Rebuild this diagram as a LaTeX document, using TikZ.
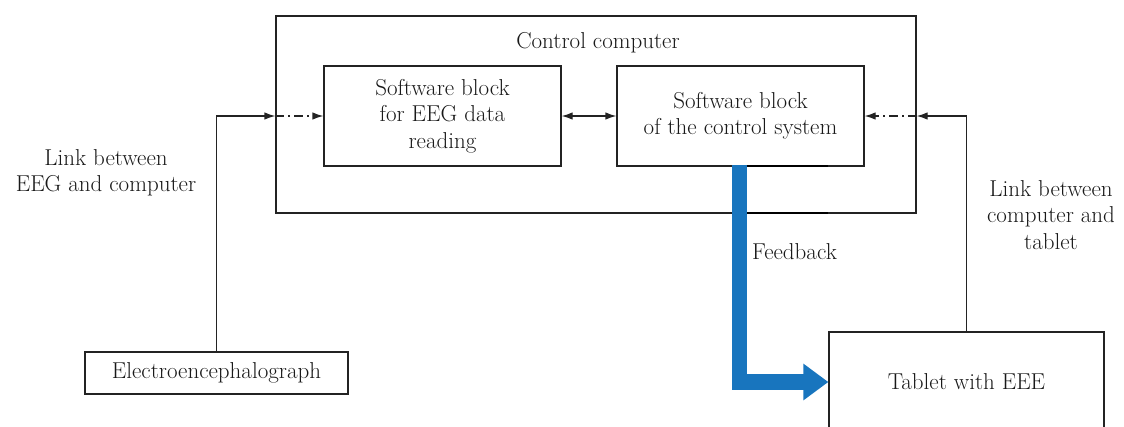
\documentclass[tikz,border=0pt]{standalone}
\usetikzlibrary{arrows.meta}
\definecolor{fbblue}{RGB}{24,117,190}
\definecolor{txt}{RGB}{25,25,25}
\definecolor{ln}{RGB}{35,35,35}
\tikzset{
  blk/.style={draw=ln, line width=1.25pt, inner sep=0pt, align=center, text=txt},
  lbl/.style={inner sep=0pt, align=center, text=txt},
  conn/.style={draw=ln, line width=1.25pt, -{Latex[length=11pt,width=7.5pt]}},
  dd/.style={draw=ln, line width=1.25pt, dash pattern=on 9pt off 4pt on 2pt off 4pt, -{Latex[length=11pt,width=7.5pt]}},
  both/.style={draw=ln, line width=1.25pt, {Latex[length=11pt,width=7.5pt]}-{Latex[length=11pt,width=7.5pt]}},
  fb/.style={draw=fbblue, line width=15.5pt, line join=miter, -{Triangle[length=25pt,width=35pt]}},
}
\begin{document}
\begin{tikzpicture}[x=1pt,y=-1pt,font=\fontsize{23}{26.5}\selectfont]
\useasboundingbox (0,0) rectangle (1124,426);
% boxes
\node[blk, minimum width=640pt, minimum height=197pt] (outer) at (596,114.5) {};
\node[lbl] (cc) at (598,43) {Control computer};
\node[blk, minimum width=237pt, minimum height=100pt] (left) at (442.5,116) {Software block\\for EEG data\\reading};
\node[blk, minimum width=247pt, minimum height=100pt] (right) at (740.5,116) {Software block\\of the control system};
\node[blk, minimum width=263pt, minimum height=42pt] (eeg) at (216.5,373) {Electroencephalograph};
\node[blk, minimum width=275pt, minimum height=100pt] (tablet) at (966.5,382) {Tablet with EEE};
% labels
\node[lbl] (l1) at (106,173) {Link between\\EEG and computer};
\node[lbl] (l2) at (1051,215) {Link between\\computer and\\tablet};
% coordinates
\coordinate (lk) at (216,116);
\coordinate (rk) at (966,116);
\coordinate (fbs) at (739.5,165);
% connectors
\draw[conn] (eeg.north) |- (outer.west |- lk);
\draw[dd] (outer.west |- lk) -- (left.west |- lk);
\draw[both] (left.east |- lk) -- (right.west |- lk);
\draw[conn] (tablet.north) |- (outer.east |- rk);
\draw[dd] (outer.east |- rk) -- (right.east |- rk);
% feedback
\draw[fb] (fbs) |- (tablet.west);
\node[lbl, anchor=west] (fbl) at (752,252) {Feedback};
\draw[line width=1.6pt] (747,166) -- (828,166);
\draw[line width=1.6pt] (747,213) -- (828,213);
\end{tikzpicture}
\end{document}
